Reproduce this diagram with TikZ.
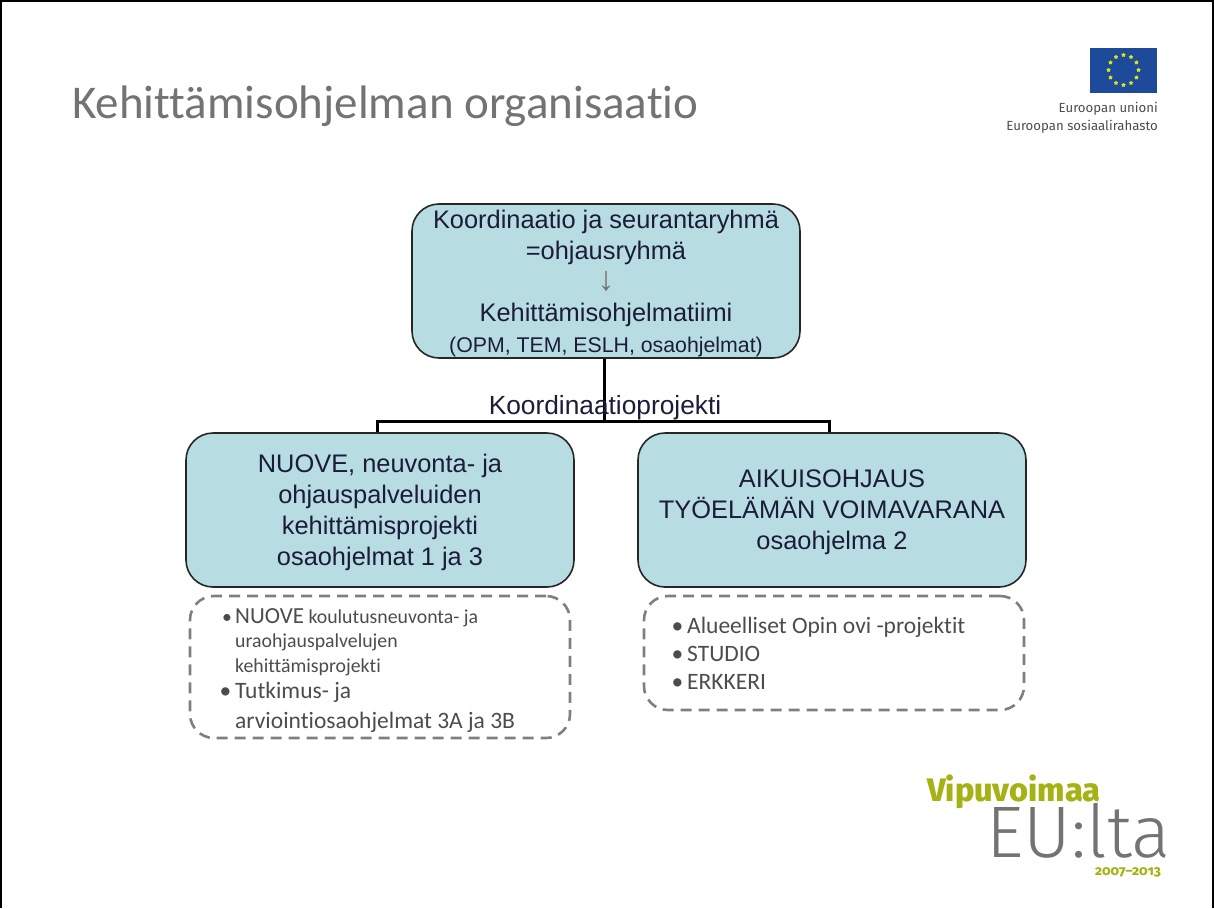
\documentclass[tikz,border=0pt]{standalone}
\usepackage{fontspec}
\setmainfont{Carlito}[Ligatures=CommonOff]
\newfontfamily\arial{Liberation Sans}
\newfontfamily\logo{Fira Sans}
\newfontfamily\paksu{Fira Sans ExtraBold}
\newfontfamily\ohut{Fira Sans Light}
\usetikzlibrary{positioning,calc,shapes.geometric}
\definecolor{laatikko}{HTML}{B7DDE3}
\definecolor{tumma}{HTML}{1C1C3A}
\definecolor{harmaa}{HTML}{7F7F7F}
\definecolor{oliivi}{HTML}{A5B213}
\definecolor{eusin}{HTML}{1E4A9C}
\tikzset{
  ruutu/.style={draw=black!85,line width=1.6pt,fill=laatikko,rounded corners=27pt,inner sep=0pt,
    minimum width=388pt,minimum height=154pt,align=center,text=tumma,font=\arial\fontsize{25.4}{31}\selectfont,
    text depth=-1pt},
  katko/.style={draw=harmaa,line width=2.6pt,rounded corners=24pt,dash pattern=on 11pt off 7pt,
    inner sep=0pt,minimum width=380pt},
  kohta/.style={anchor=base west,inner sep=0pt,align=left,text=black!70},
  viiva/.style={line width=3pt,black},
  tahti/.style={star,star points=5,fill=yellow!85!green,inner sep=0pt,minimum size=4.5pt}
}
\begin{document}
\begin{tikzpicture}[x=1pt,y=-1pt]
  % kehys
  \useasboundingbox (0,0) rectangle (1214,908);
  \draw[black,line width=1.5pt] (1,908) -- (1,1) -- (1213,1) -- (1213,908);

  % otsikko
  \node[anchor=base west,inner sep=0pt,text=black!55,font=\fontsize{47}{50}\selectfont] (otsikko) at (72,118) {Kehittämisohjelman organisaatio};

  % laatikot
  \node[ruutu] (koord) at (606,281) {Koordinaatio ja seurantaryhmä\\=ohjausryhmä\\{\color{black!55}\fontsize{34}{31}\selectfont ↓}\\Kehittämisohjelmatiimi\\{\fontsize{21.3}{31}\selectfont(OPM, TEM, ESLH, osaohjelmat)}};
  \node[ruutu] (nuove) at (380,510) {NUOVE, neuvonta- ja\\ohjauspalveluiden\\kehittämisprojekti\\osaohjelmat 1 ja 3};
  \node[ruutu] (aikuis) at (832,510) {AIKUISOHJAUS\\TYÖELÄMÄN VOIMAVARANA\\osaohjelma 2};

  % viivat
  \coordinate (haara) at (604,421);
  \draw[viiva] (koord.south -| haara) -- (haara);
  \draw[viiva] (haara) -| ([xshift=-2.5pt]nuove.north);
  \draw[viiva] (haara) -| ([xshift=-2.5pt]aikuis.north);
  \node[anchor=base,text=tumma,font=\arial\fontsize{26.3}{28}\selectfont,inner sep=0pt] (projekti) at (605,414) {Koordinaatioprojekti};

  % katkoviivalaatikot
  \node[katko,minimum height=142pt] (lista1) at (380,667) {};
  \node[katko,minimum height=114pt] (lista2) at (834,653) {};

  \node[kohta,font=\fontsize{19.8}{24.5}\selectfont] (k1) at (235,672) {\llap{•\,}{\fontsize{23}{24.5}\selectfont NUOVE} koulutusneuvonta- ja\\uraohjauspalvelujen\\kehittämisprojekti};
  \node[kohta,font=\fontsize{23.5}{30}\selectfont] (k2) at (235,728) {\llap{•\,}Tutkimus- ja\\arviointiosaohjelmat 3A ja 3B};
  \node[kohta,font=\fontsize{23.5}{28}\selectfont] (k3) at (687,689) {\llap{•\,}Alueelliset Opin ovi -projektit\\\llap{•\,}STUDIO\\\llap{•\,}ERKKERI};

  % lippu
  \node[fill=eusin,inner sep=0pt,minimum width=67pt,minimum height=45pt] (lippu) at (1123.5,70) {};
  \foreach \i in {1,...,12}
    \node[tahti] (t\i) at ($(lippu.center)+({\i*30}:15pt)$) {};
  \node[anchor=base east,inner sep=0pt,text=black!70,font=\logo\fontsize{13.2}{18}\selectfont,align=right] (eu) at (1158,130) {Euroopan unioni\\Euroopan sosiaalirahasto};

  % vipuvoimaa
  \node[anchor=base west,inner sep=0pt,text=oliivi,font=\paksu\fontsize{32.5}{33}\selectfont] (vipu) at (927,801) {Vipuvoimaa};
  \node[anchor=base west,inner sep=0pt,text=black!55,font=\ohut\fontsize{73}{73}\selectfont] (eulta) at (986,857) {EU:lta};
  \node[anchor=base east,inner sep=0pt,text=oliivi,font=\paksu\fontsize{13.5}{14}\addfontfeature{Numbers=OldStyle}\selectfont] (vuodet) at (1161,875) {2007–2013};
\end{tikzpicture}
\end{document}
